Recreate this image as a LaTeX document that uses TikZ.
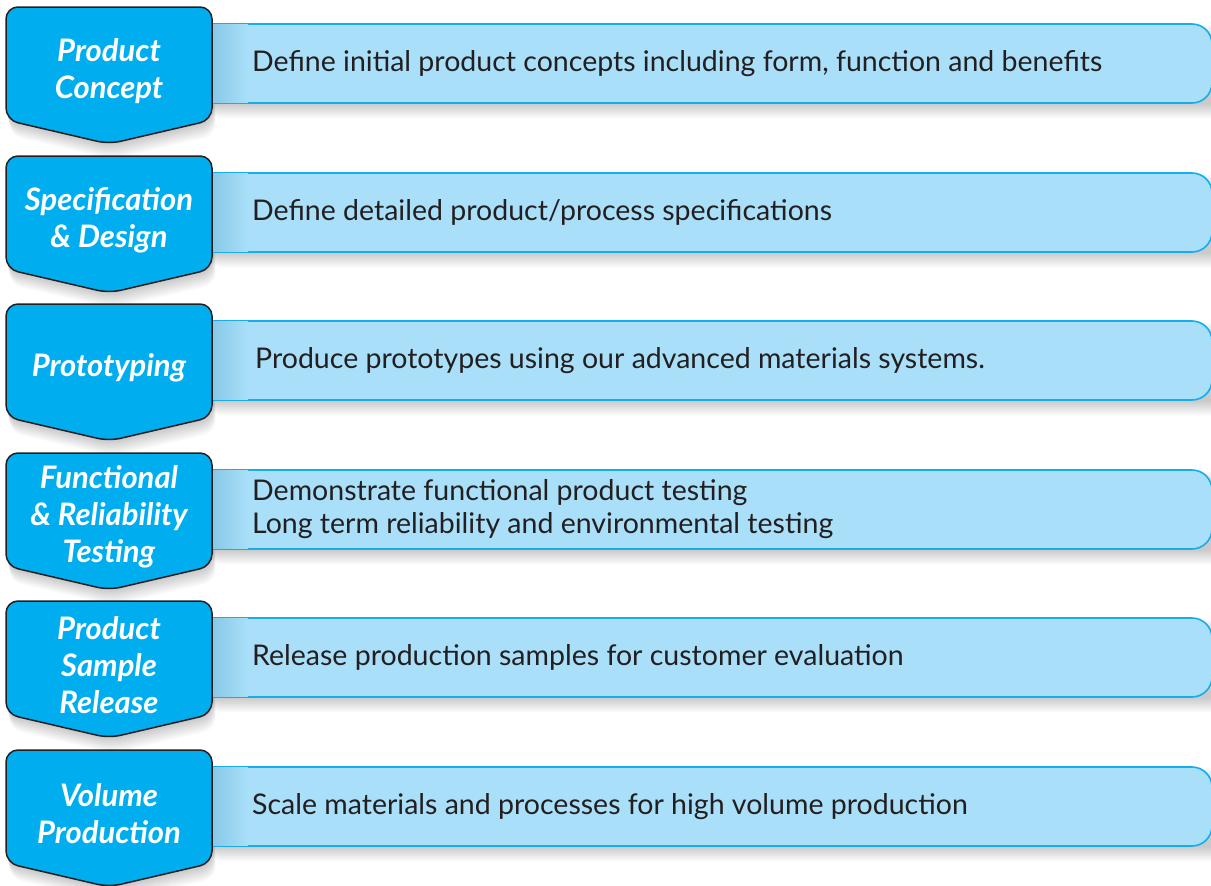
\documentclass[tikz,border=0pt]{standalone}
\usepackage{fontspec}
\setmainfont{Lato}
\definecolor{cyanA}{HTML}{00AEEF}
\definecolor{lightA}{HTML}{A9DFF9}
\definecolor{edgeA}{HTML}{231F20}
\definecolor{rimA}{HTML}{16ADEA}
\definecolor{shadeA}{HTML}{86C8E6}
\definecolor{txtA}{HTML}{231F20}
\tikzset{
  chevbox/.style={fill=cyanA,draw=edgeA,line width=1.5pt,rounded corners=12pt},
  barbox/.style={fill=lightA,draw=rimA,line width=1.6pt,rounded corners=20pt},
  chevtext/.style={text=white,font=\fontsize{31}{37}\selectfont\bfseries\itshape,align=center,inner sep=0pt},
  bartext/.style={text=txtA,font=\fontsize{28.5}{33}\selectfont,align=left,inner sep=0pt,anchor=west},
}
\newcommand\mkrow[5]{%
  \foreach \s in {1,...,9}{%
    \fill[black,opacity=0.022,rounded corners=20pt] (200+\s*0.4,#1+17+\s*1.7) rectangle (1230,#1+96+\s*1.7);
    \fill[black,opacity=0.022,rounded corners=12pt] (109+\s*0.4,#1+\s*1.7) -- (212+\s*0.4,#1+\s*1.7) -- (212+\s*0.4,#1+113+\s*1.7) -- (109+\s*0.4,#1+137+\s*1.7) -- (6+\s*0.4,#1+113+\s*1.7) -- (6+\s*0.4,#1+\s*1.7) -- cycle;
  }
  \draw[barbox] (190,#1+17) rectangle (1212,#1+96);
  \shade[left color=shadeA,right color=lightA] (211,#1+17.8) rectangle (248,#1+95.2);
  \draw[chevbox] (109,#1) -- (212,#1) -- (212,#1+113) -- (109,#1+137) -- (6,#1+113) -- (6,#1) -- cycle;
  \node[chevtext] (#2c) at (109,#1+64) {#3};
  \node[bartext] (#2t) at (#5,#1+56.5) {#4};
}
\begin{document}
\begin{tikzpicture}[x=1pt,y=-1pt]
\useasboundingbox (0,0) rectangle (1211,886);
\fill[white] (0,0) rectangle (1211,886);
\mkrow{7}{concept}{Product\\Concept}{Define initial product concepts including form, function and benefits}{252}
\mkrow{156}{spec}{Specification\\\& Design}{Define detailed product/process specifications}{252}
\mkrow{304}{proto}{Prototyping}{Produce prototypes using our advanced materials systems.}{255}
\mkrow{453}{func}{Functional\\\& Reliability\\Testing}{Demonstrate functional product testing\\Long term reliability and environmental testing}{252}
\mkrow{601}{sample}{Product\\Sample\\Release}{Release production samples for customer evaluation}{252}
\mkrow{750}{volume}{Volume\\Production}{Scale materials and processes for high volume production}{252}
\end{tikzpicture}
\end{document}
